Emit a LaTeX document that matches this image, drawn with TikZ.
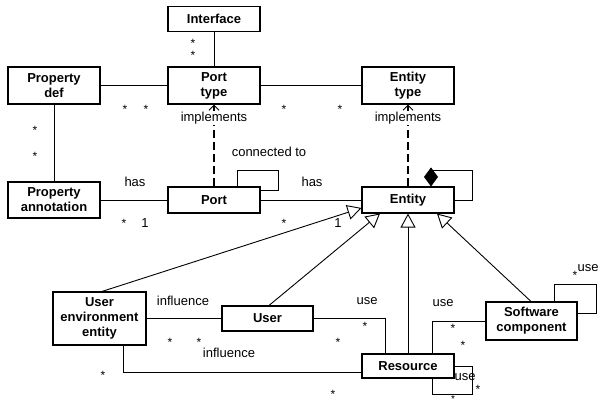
\documentclass[tikz,border=0pt]{standalone}
\usepackage{fontspec}
\setmainfont{Liberation Sans}
\usetikzlibrary{arrows.meta}
\begin{document}
\begin{tikzpicture}[x=1pt,y=-1pt,
 cls/.style={draw, line width=1.1pt, font=\bfseries\fontsize{13}{15}\selectfont, align=center, inner sep=0pt},
 lbl/.style={font=\fontsize{13}{15}\selectfont, inner sep=1pt},
 mult/.style={font=\fontsize{12}{14}\selectfont, inner sep=0pt, yshift=-3pt},
 one/.style={font=\fontsize{13}{15}\selectfont, inner sep=0pt},
 ln/.style={line width=0.9pt},
 gen/.style={ln, -{Triangle[open,length=14pt,width=15pt,line width=0.9pt]}},
 real/.style={line width=2.4pt, dash pattern=on 8pt off 4pt, -{Straight Barb[length=5pt,width=10pt,line width=1pt]}}]
\useasboundingbox (0,0) rectangle (599,406);
% classes
\node[cls, minimum width=92pt, minimum height=25pt] (iface) at (214,19) {Interface};
\node[cls, minimum width=92pt, minimum height=37pt] (ptype) at (214,85.5) {Port\\type};
\node[cls, minimum width=92pt, minimum height=37pt] (pdef) at (54,85.5) {Property\\def};
\node[cls, minimum width=92pt, minimum height=37pt] (etype) at (408,85.5) {Entity\\type};
\node[cls, minimum width=92pt, minimum height=26pt] (port) at (214,200) {Port};
\node[cls, minimum width=92pt, minimum height=26pt] (entity) at (408,200) {Entity};
\node[cls, minimum width=92pt, minimum height=36pt] (pann) at (54,200) {Property\\annotation};
\node[cls, minimum width=93pt, minimum height=53pt] (uee) at (99.5,318.5) {User\\environment\\entity};
\node[cls, minimum width=91pt, minimum height=25pt] (user) at (267.5,318.5) {User};
\node[cls, minimum width=92pt, minimum height=24pt] (res) at (408,366) {Resource};
\node[cls, minimum width=91pt, minimum height=38pt] (sc) at (531.5,321) {Software\\component};
% associations
\draw[ln] (iface) -- (ptype);
\draw[ln] (pdef) -- (ptype);
\draw[ln] (ptype) -- (etype);
\draw[ln] (pdef) -- (pann);
\draw[ln] (pann) -- (port);
\draw[ln] (port) -- (entity);
\draw[ln] (237,0 |- port.north) -- (237,170) -- (278,170) -- (278,190) -- (port.east |- 0,190);
\draw[ln, -{Diamond[length=19pt,width=14pt]}] (entity.east) -- (472,200) -- (472,170) -- (431,170) -- (431,0 |- entity.north);
% realizations
\draw[real] (port.north) -- (ptype.south);
\draw[real] (entity.north) -- (etype.south);
% generalizations
\draw[gen] (102,0 |- uee.north) -- (entity.west |- 0,208);
\draw[gen] (269,0 |- user.north) -- (380,0 |- entity.south);
\draw[gen] (res.north) -- (entity.south);
\draw[gen] (531,0 |- sc.north) -- (437,0 |- entity.south);
% other associations
\draw[ln] (uee.east) -- (user.west);
\draw[ln] (123,0 |- uee.south) -- (123,372) -- (res.west |- 0,372);
\draw[ln] (user.east) -- (385,318.5) -- (385,0 |- res.north);
\draw[ln] (sc.west) -- (432,321) -- (432,0 |- res.north);
\draw[ln] (res.east) -- (472,366) -- (472,394) -- (432,394) -- (432,0 |- res.south);
\draw[ln] (554,0 |- sc.north) -- (554,284) -- (596,284) -- (596,313) -- (sc.east |- 0,313);
% labels
\node[lbl, fill=white] (l1) at (214,118) {implements};
\node[lbl, fill=white] (l2) at (408,118) {implements};
\node[lbl] (l3) at (269,152) {connected to};
\node[lbl] (l4) at (135,182) {has};
\node[lbl] (l5) at (312,182) {has};
\node[lbl] (l6) at (183,301) {influence};
\node[lbl] (l7) at (229,353) {influence};
\node[lbl] (l8) at (367,301) {use};
\node[lbl] (l9) at (443,303) {use};
\node[lbl] (l10) at (465,377) {use};
\node[lbl] (l11) at (588,268) {use};
% multiplicities
\foreach \p [count=\i] in {(193,40),(193,52),(125,106),(146,106),(284,106),(340,106),(35,127),(35,153),(124,220),(284,220),(170,339),(199,339),(103,372),(365,323),(338,339),(453,325),(463,342),(478,386),(333,391),(575,272)}
  \node[mult] (m\i) at \p {*};
\node[font=\fontsize{10}{12}\selectfont, inner sep=0pt] (mlast) at (453,399.5) {*};
\node[one] (o1) at (145,223) {1};
\node[one] (o2) at (338,223) {1};
\end{tikzpicture}
\end{document}
